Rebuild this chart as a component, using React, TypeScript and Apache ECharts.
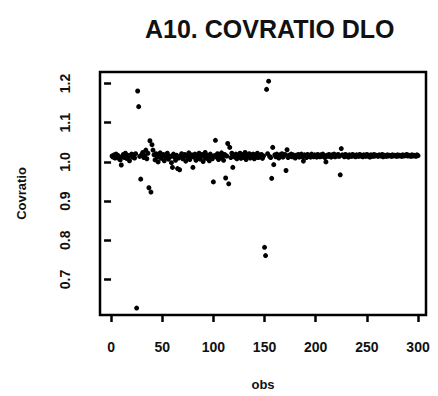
import React, { useEffect, useRef } from "react";
import * as echarts from "echarts";

const titleText = "A10. COVRATIO DLO";
const xName = "obs";
const yName = "Covratio";
const xTicks = [0, 50, 100, 150, 200, 250, 300];
const yTicks = [0.7, 0.8, 0.9, 1.0, 1.1, 1.2];

// COVRATIO values for obs 1..300
const covratio = [
  1.015, 1.012, 1.018, 1.010, 1.020, 1.013, 1.016, 1.008, 1.005, 0.992, 1.014, 1.019, 1.011, 1.022, 1.009, 1.017, 1.013, 1.003, 1.016, 1.020,
  1.012, 1.018, 1.010, 1.021, 0.627, 1.181, 1.141, 1.014, 0.956, 1.019, 1.024, 1.011, 1.016, 1.030, 1.008, 1.022, 0.934, 1.054, 0.923, 1.044,
  1.030, 1.018, 1.005, 1.021, 1.012, 1.000, 1.016, 1.023, 1.009, 1.014, 1.019, 1.003, 1.017, 1.011, 1.022, 1.007, 1.015, 1.013, 0.998, 0.986,
  1.020, 1.012, 1.004, 1.017, 0.983, 1.010, 0.980, 1.015, 1.021, 1.008, 1.013, 1.019, 1.002, 1.016, 1.011, 1.023, 1.006, 1.014, 1.018, 0.986,
  1.012, 1.020, 1.004, 1.016, 1.010, 1.022, 1.007, 1.015, 1.019, 1.001, 1.013, 1.024, 1.009, 1.017, 1.011, 1.003, 1.020, 1.014, 1.008, 0.949,
  1.016, 1.055, 1.012, 1.021, 1.006, 1.018, 1.010, 1.023, 1.013, 1.004, 1.019, 0.959, 1.015, 1.047, 0.944, 1.037, 1.011, 1.022, 0.986, 1.016,
  1.012, 1.020, 1.008, 1.017, 1.014, 1.022, 1.009, 1.015, 1.019, 1.011, 1.024, 1.006, 1.016, 1.013, 1.021, 1.010, 1.018, 1.014, 1.020, 1.008,
  1.016, 1.012, 1.022, 1.011, 1.017, 1.013, 1.019, 1.009, 1.015, 0.782, 0.761, 1.185, 1.021, 1.206, 1.014, 1.011, 0.958, 1.037, 0.993, 1.018,
  1.013, 1.020, 1.015, 1.010, 1.018, 1.014, 1.021, 1.012, 1.016, 1.019, 0.978, 1.031, 1.011, 1.017, 1.014, 1.020, 1.013, 1.018, 1.015, 1.010,
  1.017, 1.014, 1.019, 1.012, 1.016, 1.020, 1.013, 1.002, 1.018, 1.015, 1.011, 1.019, 1.014, 1.017, 1.012, 1.020, 1.016, 1.013, 1.018, 1.015,
  1.012, 1.019, 1.016, 1.013, 1.018, 1.014, 1.020, 1.015, 1.011, 1.000, 1.017, 1.014, 1.019, 1.016, 1.012, 1.018, 1.015, 1.020, 1.013, 1.017,
  1.015, 1.019, 1.014, 0.967, 1.034, 1.018, 1.016, 1.013, 1.019, 1.015, 1.017, 1.012, 1.018, 1.016, 1.014, 1.019, 1.015, 1.017, 1.013, 1.018,
  1.016, 1.014, 1.019, 1.015, 1.017, 1.013, 1.018, 1.016, 1.014, 1.019, 1.015, 1.017, 1.012, 1.018, 1.016, 1.014, 1.019, 1.015, 1.017, 1.016,
  1.014, 1.018, 1.016, 1.015, 1.019, 1.013, 1.017, 1.016, 1.014, 1.018, 1.015, 1.017, 1.016, 1.014, 1.018, 1.015, 1.017, 1.016, 1.014, 1.018,
  1.015, 1.017, 1.016, 1.014, 1.018, 1.015, 1.017, 1.016, 1.019, 1.015, 1.017, 1.016, 1.014, 1.018, 1.015, 1.017, 1.016, 1.014, 1.018, 1.016,
];

const FONT = "Liberation Sans, Arial, sans-serif";

export default function App() {
  const ref = useRef<HTMLDivElement>(null);
  useEffect(() => {
    document.body.style.margin = "0";
    if (!ref.current) return;
    const chart = echarts.init(ref.current, null, { renderer: "svg" });
    const points = covratio.map((v, i) => [i + 1, v]);
    chart.setOption({
      animation: false,
      backgroundColor: "#fff",
      title: {
        text: titleText,
        left: 140,
        top: 11,
        textStyle: { fontFamily: FONT, fontSize: 25, fontWeight: "bold", color: "#111" },
      },
      grid: {
        left: 100,
        top: 72,
        width: 326,
        height: 253,
        show: true,
        borderColor: "#000",
        borderWidth: 2.5,
        backgroundColor: "transparent",
      },
      xAxis: {
        type: "value",
        min: -10.8,
        max: 307.8,
        name: xName,
        nameLocation: "middle",
        nameGap: 63,
        nameTextStyle: { fontFamily: FONT, fontSize: 13, fontWeight: "bold", color: "#111" },
        axisLine: { show: false },
        splitLine: { show: false },
        axisTick: {
          show: true,
          inside: false,
          length: 7,
          customValues: xTicks,
          lineStyle: { color: "#000", width: 2.5 },
        },
        axisLabel: {
          customValues: xTicks,
          margin: 25,
          fontFamily: FONT,
          fontSize: 14,
          fontWeight: "bold",
          color: "#111",
        },
      },
      yAxis: {
        type: "value",
        min: 0.6093,
        max: 1.2294,
        name: yName,
        nameLocation: "middle",
        nameGap: 72,
        nameRotate: 90,
        nameTextStyle: { fontFamily: FONT, fontSize: 13, fontWeight: "bold", color: "#111" },
        axisLine: { show: false },
        splitLine: { show: false },
        axisTick: {
          show: true,
          inside: false,
          length: 7,
          customValues: yTicks,
          lineStyle: { color: "#000", width: 2.5 },
        },
        axisLabel: {
          customValues: yTicks,
          rotate: 90,
          margin: 28,
          formatter: (v: number) => v.toFixed(1),
          fontFamily: FONT,
          fontSize: 14,
          fontWeight: "bold",
          color: "#111",
        },
      },
      series: [
        {
          type: "scatter",
          data: points,
          symbol: "circle",
          symbolSize: 5,
          itemStyle: { color: "#000", opacity: 1 },
        },
      ],
    });
    return () => chart.dispose();
  }, []);
  return <div ref={ref} style={{ width: 438, height: 396 }} />;
}
